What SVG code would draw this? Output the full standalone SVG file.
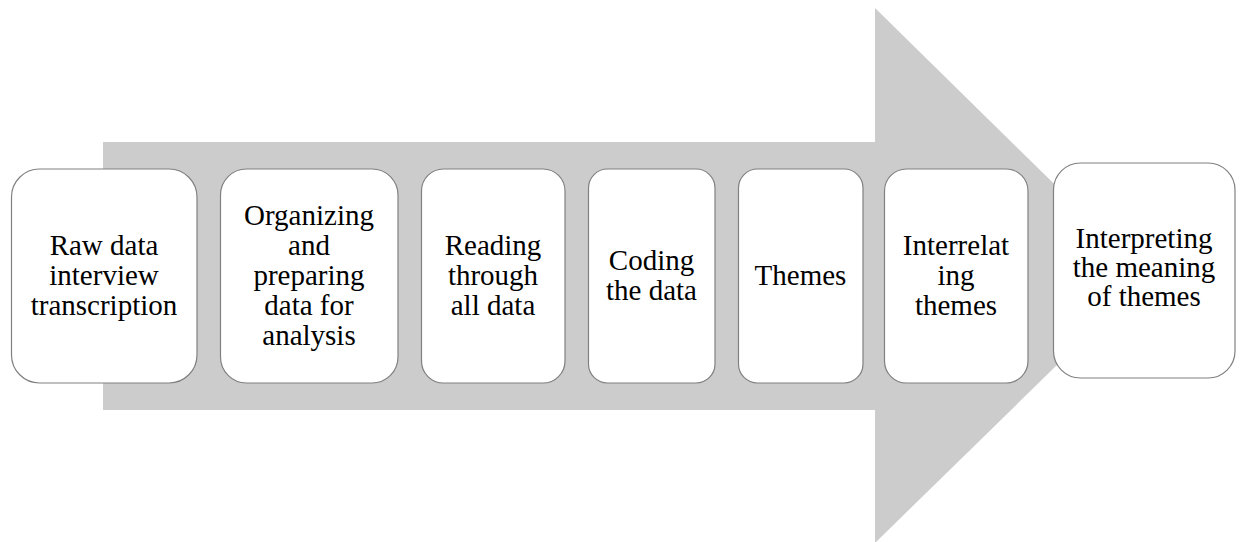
<svg xmlns="http://www.w3.org/2000/svg" width="1240" height="542" viewBox="0 0 1240 542">
  <style>
    .arrow { fill: #cccccc; stroke: none; }
    .box { fill: #ffffff; stroke: #808080; stroke-width: 1.2; }
    .label { font-family: "Liberation Serif", "Times New Roman", Times, serif; font-size: 29px; fill: #000000; text-anchor: middle; }
  </style>

  <rect width="1240" height="542" fill="#ffffff"/>

  <!-- background process arrow -->
  <g id="connectors">
    <polygon class="arrow" points="103,142 875,142 875,8 1148,276 875,543 875,410 103,410"/>
  </g>

  <g id="nodes">
    <g id="step1">
      <rect class="box" x="11.5" y="169" width="185.5" height="214" rx="28" ry="28"/>
      <text class="label" x="104" y="255">Raw data</text>
      <text class="label" x="104" y="285">interview</text>
      <text class="label" x="104" y="315">transcription</text>
    </g>

    <g id="step2">
      <rect class="box" x="220.5" y="169" width="177.5" height="214" rx="26" ry="26"/>
      <text class="label" x="309" y="225">Organizing</text>
      <text class="label" x="309" y="255">and</text>
      <text class="label" x="309" y="285">preparing</text>
      <text class="label" x="309" y="315">data for</text>
      <text class="label" x="309" y="345">analysis</text>
    </g>

    <g id="step3">
      <rect class="box" x="421.5" y="169" width="143.5" height="214" rx="22" ry="22"/>
      <text class="label" x="493" y="255">Reading</text>
      <text class="label" x="493" y="285">through</text>
      <text class="label" x="493" y="315">all data</text>
    </g>

    <g id="step4">
      <rect class="box" x="588.5" y="169" width="126.5" height="214" rx="19" ry="19"/>
      <text class="label" x="651.5" y="270">Coding</text>
      <text class="label" x="651.5" y="300">the data</text>
    </g>

    <g id="step5">
      <rect class="box" x="738.5" y="169" width="124.5" height="214" rx="19" ry="19"/>
      <text class="label" x="800.5" y="285">Themes</text>
    </g>

    <g id="step6">
      <rect class="box" x="884.5" y="169" width="143.5" height="214" rx="22" ry="22"/>
      <text class="label" x="956" y="255">Interrelat</text>
      <text class="label" x="956" y="285">ing</text>
      <text class="label" x="956" y="315">themes</text>
    </g>

    <g id="step7">
      <rect class="box" x="1053.5" y="163" width="181.5" height="215" rx="27" ry="27"/>
      <text class="label" x="1144" y="248">Interpreting</text>
      <text class="label" x="1144" y="277">the meaning</text>
      <text class="label" x="1144" y="306">of themes</text>
    </g>
  </g>
</svg>
